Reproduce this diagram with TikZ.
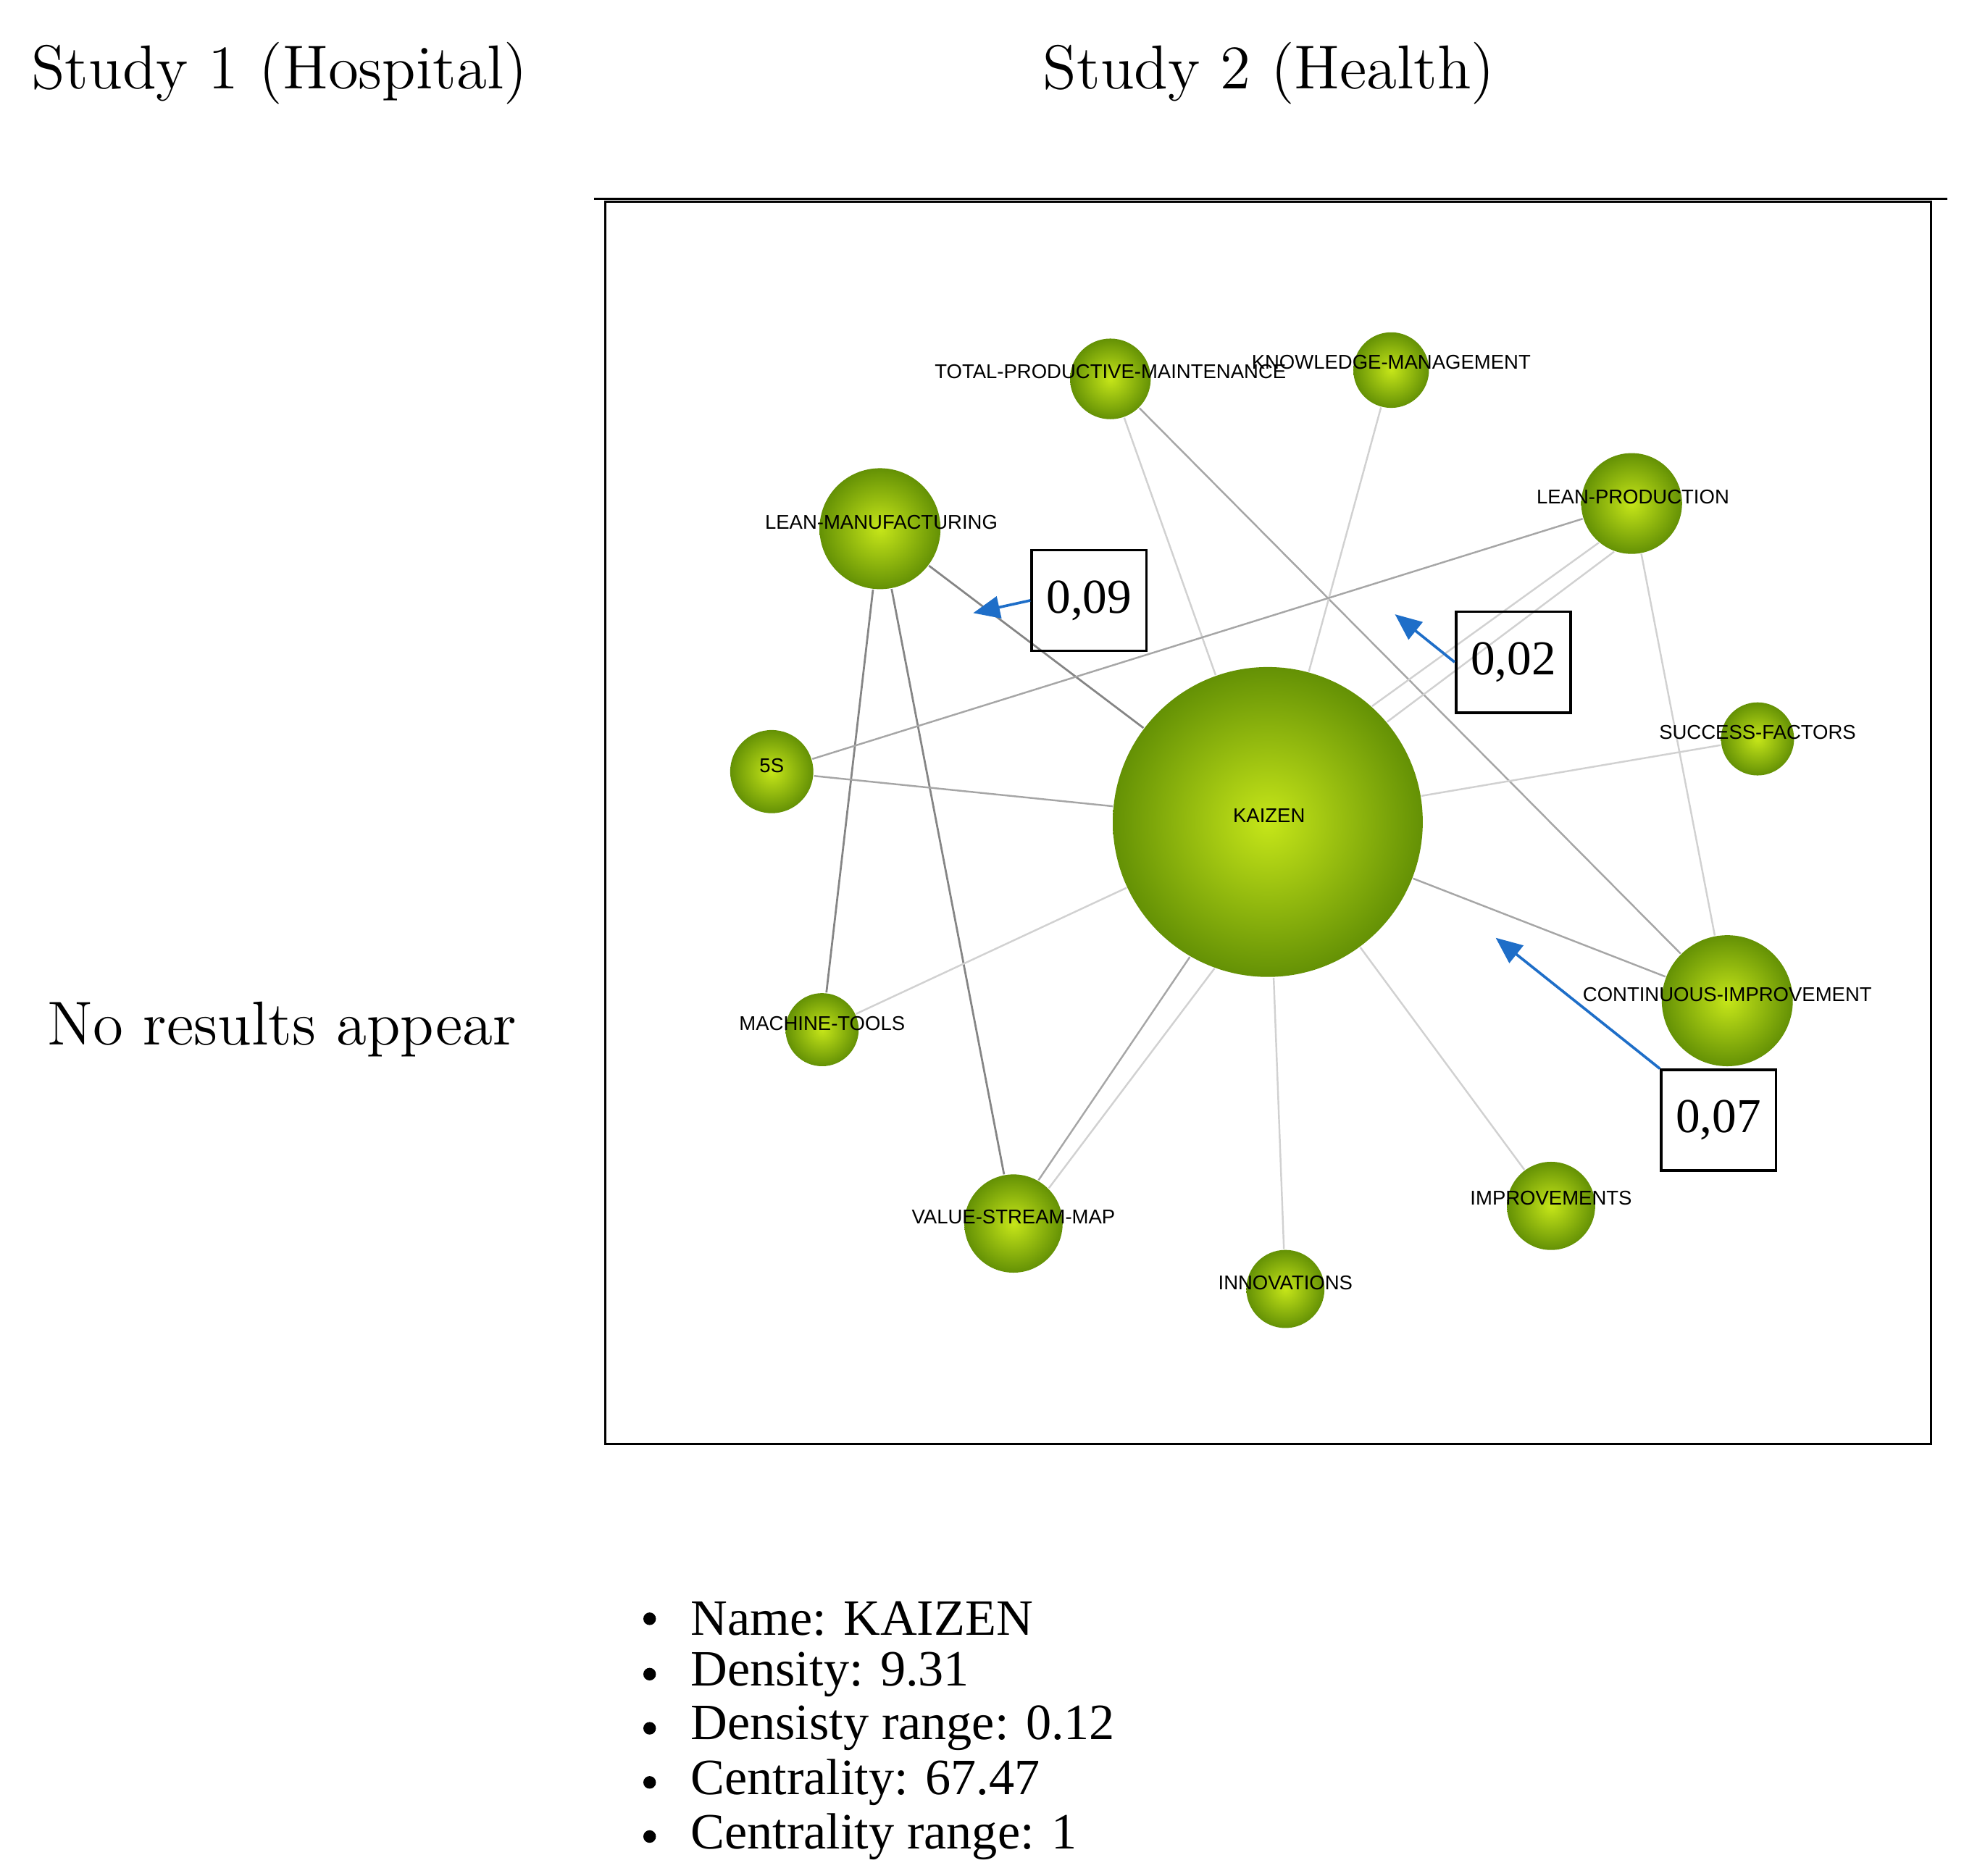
\documentclass[tikz,border=0pt]{standalone}
\usepackage{fontspec}
\newfontfamily\labfont{Liberation Sans}
\newfontfamily\listfont{Liberation Serif}
\usetikzlibrary{backgrounds,arrows.meta}
\definecolor{arr}{RGB}{30,110,200}
\definecolor{lime}{RGB}{198,230,25}
\definecolor{olive}{RGB}{100,145,5}
\begin{document}
\begin{tikzpicture}[x=0.01cm,y=-0.01cm,
  ball/.style={circle,inner sep=0,minimum size=#1*0.02cm,inner color=lime,outer color=olive,draw=none},
  lab/.style={font=\labfont\fontsize{4.5}{5}\selectfont,inner sep=0},
  title/.style={font=\fontsize{14}{17}\selectfont},
  dk/.style={draw=black!48,line width=0.45pt},
  md/.style={draw=black!35,line width=0.4pt},
  lt/.style={draw=black!18,line width=0.4pt},
  valbox/.style={draw,line width=0.6pt,minimum width=0.87cm,minimum height=0.8cm,font=\listfont\fontsize{11}{13}\selectfont},
  pt/.style={-{Triangle[length=6pt,width=5pt]},draw=arr,line width=0.6pt}]
\useasboundingbox (0,0) rectangle (1560,1490);
\node[title] (t1) at (222,58) {Study 1 (Hospital)};
\node[title] (t2) at (1008,58) {Study 2 (Health)};
\node[title] (nr) at (224,818) {No results appear};
\coordinate (hl1) at (472,158); \coordinate (hl2) at (1547,158);
\draw[line width=0.6pt] (hl1) -- (hl2);
\draw[line width=0.5pt] (481,160) rectangle (1534,1147);
% nodes
\node[ball=32] (tpm) at (882,301) {};
\node[ball=30] (km) at (1105,294) {};
\node[ball=48] (lm) at (699,420) {};
\node[ball=40] (lp) at (1296,400) {};
\node[ball=33] (s5) at (613,613) {};
\node[ball=29] (sf) at (1396,587) {};
\node[ball=123] (kz) at (1007,653) {};
\node[ball=52] (ci) at (1372,795) {};
\node[ball=29] (mt) at (653,818) {};
\node[ball=39] (vsm) at (805,972) {};
\node[ball=35] (imp) at (1232,958) {};
\node[ball=31] (inn) at (1021,1024) {};
\node[lab] at (882,295) {TOTAL-PRODUCTIVE-MAINTENANCE};
\node[lab] at (1105,288) {KNOWLEDGE-MANAGEMENT};
\node[lab] at (700,415) {LEAN-MANUFACTURING};
\node[lab] at (1297,395) {LEAN-PRODUCTION};
\node[lab] at (613,608) {5S};
\node[lab] at (1396,582) {SUCCESS-FACTORS};
\node[lab] at (1008,648) {KAIZEN};
\node[lab] at (1372,790) {CONTINUOUS-IMPROVEMENT};
\node[lab] at (653,813) {MACHINE-TOOLS};
\node[lab] at (805,967) {VALUE-STREAM-MAP};
\node[lab] at (1232,952) {IMPROVEMENTS};
\node[lab] at (1021,1019) {INNOVATIONS};
\begin{pgfonlayer}{background}
\draw[lt] (tpm) -- (kz);
\draw[md] (tpm) -- (ci);
\draw[lt] (km) -- (kz);
\draw[dk] (lm) -- (kz);
\draw[dk] (lm) -- (mt);
\draw[dk] (lm) -- (vsm);
\draw[md] (lp) -- (s5);
\draw[lt] (lp.250) -- (kz.40);
\draw[lt] (lp.230) -- (kz.48);
\draw[lt] (lp) -- (ci);
\draw[md] (s5) -- (kz);
\draw[lt] (sf) -- (kz);
\draw[md] (kz) -- (ci);
\draw[lt] (kz) -- (mt);
\draw[md] (kz.240) -- (vsm.60);
\draw[lt] (kz.250) -- (vsm.45);
\draw[lt] (kz) -- (inn);
\draw[lt] (kz) -- (imp);
\end{pgfonlayer}
% value boxes
\node[valbox] (b9) at (865,477) {0,09};
\node[valbox] (b2) at (1202,526) {0,02};
\node[valbox] (b7) at (1365,890) {0,07};
\coordinate (a9) at (773,487);
\coordinate (a2) at (1108,488);
\coordinate (a7) at (1188,745);
\draw[pt] (b9.west) -- (a9);
\draw[pt] (b2.west) -- (a2);
\draw[pt] (b7.north west) -- (a7);
% list
\begin{scope}[every node/.style={font=\listfont\fontsize{11.5}{13}\selectfont,anchor=west,inner sep=0}]
\foreach \y/\t in {1286/Name: KAIZEN,1330/Density: 9.31,1373/Densisty range: 0.12,1416/Centrality: 67.47,1459/Centrality range: 1}{
  \fill (516,\y) circle (5);
  \node at (548,\y) {\t};
}
\end{scope}
\end{tikzpicture}
\end{document}
